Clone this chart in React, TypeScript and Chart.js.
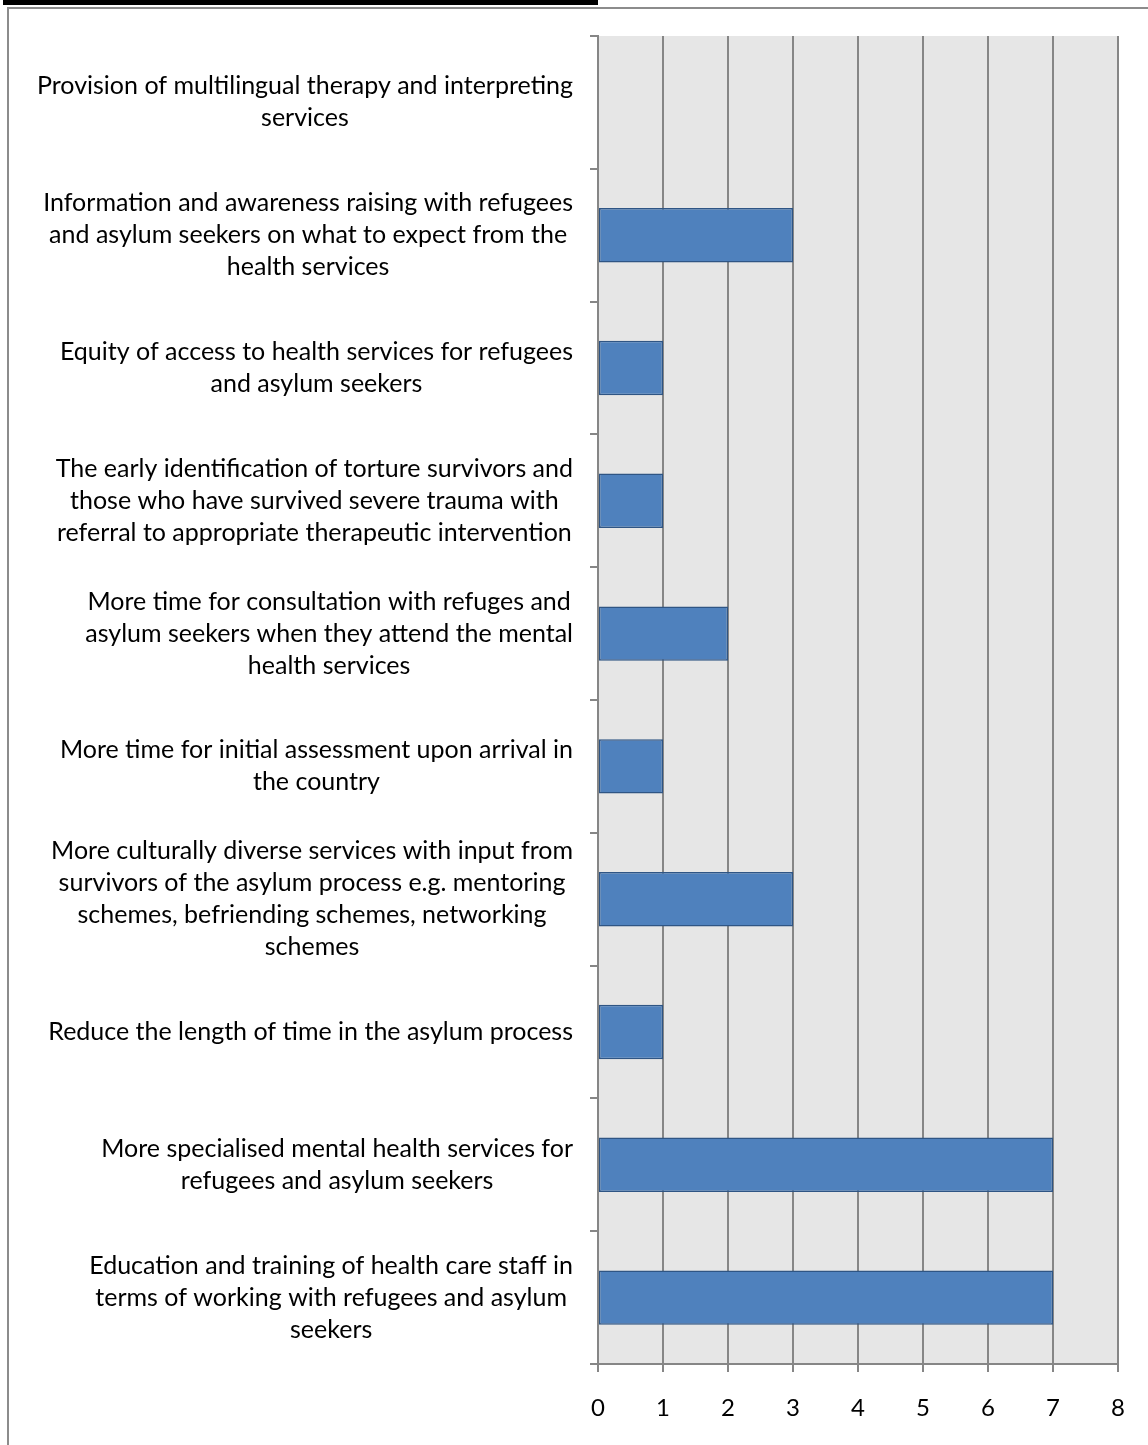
import React, { useEffect, useRef } from "react";
import { Chart, registerables } from "chart.js";

Chart.register(...registerables);

const categories: string[][] = [
  ["Provision of multilingual therapy and interpreting", "services"],
  ["Information and awareness raising with refugees", "and asylum seekers on what to expect from the", "health services"],
  ["Equity of access to health services for refugees", "and asylum seekers"],
  ["The early identification of torture survivors and", "those who have survived severe trauma with", "referral to appropriate therapeutic intervention"],
  ["More time for consultation with refuges and", "asylum seekers when they attend the mental", "health services"],
  ["More time for initial assessment upon arrival in", "the country"],
  ["More culturally diverse services with input from", "survivors of the asylum process e.g. mentoring", "schemes, befriending schemes, networking", "schemes"],
  ["Reduce the length of time in the asylum process"],
  ["More specialised mental health services for", "refugees and asylum seekers"],
  ["Education and training of health care staff in", "terms of working with refugees and asylum", "seekers"],
];

const values: number[] = [0, 3, 1, 1, 2, 1, 3, 1, 7, 7];

const xTicks: number[] = [0, 1, 2, 3, 4, 5, 6, 7, 8];

const FONT_FAMILY = "Lato, 'Open Sans', sans-serif";
const LABEL_SIZE = 25;
const LINE_H = 32;

const plotBg = {
  id: "plotBg",
  beforeDraw(chart: any) {
    const { ctx, chartArea } = chart;
    ctx.save();
    ctx.fillStyle = "#E6E6E6";
    ctx.fillRect(chartArea.left, chartArea.top, chartArea.right - chartArea.left, chartArea.bottom - chartArea.top);
    ctx.restore();
  },
};

const catLabels = {
  id: "catLabels",
  afterDraw(chart: any) {
    const { ctx } = chart;
    const yScale = chart.scales.y;
    const rightEdge = yScale.right - 8 - 17;
    ctx.save();
    ctx.font = `${LABEL_SIZE}px ${FONT_FAMILY}`;
    ctx.fillStyle = "#000000";
    ctx.textAlign = "center";
    ctx.textBaseline = "middle";
    categories.forEach((lines, i) => {
      const cy = yScale.getPixelForTick(i);
      const blockW = Math.max(...lines.map((l) => ctx.measureText(l).width));
      const cx = rightEdge - blockW / 2;
      const startY = cy - ((lines.length - 1) * LINE_H) / 2;
      lines.forEach((l, j) => ctx.fillText(l, cx, startY + j * LINE_H));
    });
    ctx.restore();
  },
};

export default function App() {
  const ref = useRef<HTMLCanvasElement | null>(null);

  useEffect(() => {
    if (!ref.current) return;
    const chart = new Chart(ref.current, {
      type: "bar",
      data: {
        labels: categories.map((c) => c.join(" ")),
        datasets: [
          {
            data: values,
            backgroundColor: "#4F81BD",
            borderColor: "#2F5584",
            borderWidth: 1.5,
            borderSkipped: false,
            barPercentage: 0.41,
            categoryPercentage: 1,
          },
        ],
      },
      options: {
        indexAxis: "y",
        animation: false,
        responsive: false,
        maintainAspectRatio: false,
        layout: { padding: { top: 27, right: 30, left: 0, bottom: 0 } },
        plugins: {
          legend: { display: false },
          tooltip: { enabled: false },
          title: { display: false },
        },
        scales: {
          x: {
            type: "linear",
            min: 0,
            max: 8,
            afterBuildTicks: (scale: any) => {
              scale.ticks = xTicks.map((v) => ({ value: v }));
            },
            afterFit: (scale: any) => {
              scale.height = 81;
            },
            grid: {
              color: "#868686",
              lineWidth: 2,
              drawOnChartArea: true,
              drawTicks: true,
              tickLength: 8,
            },
            border: { display: true, color: "#868686", width: 2 },
            ticks: {
              color: "#000000",
              font: { family: FONT_FAMILY, size: 24 },
              padding: 22,
              maxRotation: 0,
            },
          },
          y: {
            type: "category",
            offset: true,
            afterFit: (scale: any) => {
              scale.width = 589;
            },
            grid: {
              offset: true,
              color: "#868686",
              lineWidth: 2,
              drawOnChartArea: false,
              drawTicks: true,
              tickLength: 8,
            },
            border: { display: true, color: "#868686", width: 2 },
            ticks: { display: false },
          },
        },
      },
      plugins: [plotBg, catLabels],
    });
    return () => chart.destroy();
  }, []);

  return (
    <div style={{ position: "absolute", left: 0, top: 0, width: 1148, height: 1445, overflow: "hidden", background: "#ffffff" }}>
      <div style={{ position: "absolute", left: 3, top: 0, width: 595, height: 5, background: "#000000" }} />
      <div
        style={{
          position: "absolute",
          left: 7,
          top: 7,
          width: 1141,
          height: 1438,
          borderLeft: "2px solid #8C8C8C",
          borderTop: "2px solid #8C8C8C",
          boxSizing: "border-box",
        }}
      >
        <canvas ref={ref} width={1139} height={1436} style={{ display: "block", width: 1139, height: 1436 }} />
      </div>
    </div>
  );
}
